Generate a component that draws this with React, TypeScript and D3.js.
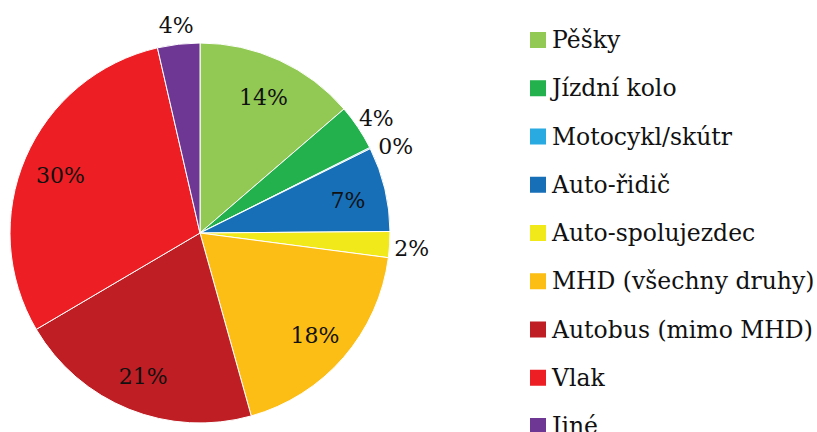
import React from 'react';
import * as d3 from 'd3';

const categories = [
  'Pěšky',
  'Jízdní kolo',
  'Motocykl/skútr',
  'Auto-řidič',
  'Auto-spolujezdec',
  'MHD (všechny druhy)',
  'Autobus (mimo MHD)',
  'Vlak',
  'Jiné',
];
const shares = [13.7, 3.9, 0.1, 7.2, 2.2, 18.6, 20.9, 29.9, 3.6];
const labels = ['14%', '4%', '0%', '7%', '2%', '18%', '21%', '30%', '4%'];
const outside = [false, true, true, false, true, false, false, false, true];
const colors = ['#92c955', '#22b14c', '#29abe2', '#176fb8', '#f2e91b', '#fcbe15', '#be1e24', '#ed1f24', '#6f3794'];

const W = 817;
const H = 432;
const FONT = '"DejaVu Serif", serif';

type Row = { name: string; value: number; label: string; out: boolean; color: string };

const rows: Row[] = categories.map((name, i) => ({
  name,
  value: shares[i],
  label: labels[i],
  out: outside[i],
  color: colors[i],
}));

const App: React.FC = () => {
  const cx = 200;
  const cy = 233;
  const r = 190;

  const pie = d3.pie<Row>().value(d => d.value).sort(null);
  const arcs = pie(rows);
  const arc = d3.arc<d3.PieArcDatum<Row>>().innerRadius(0).outerRadius(r);
  const inLabel = d3.arc<d3.PieArcDatum<Row>>().innerRadius(r * 0.8).outerRadius(r * 0.8);
  const outLabel = d3.arc<d3.PieArcDatum<Row>>().innerRadius(r + 22).outerRadius(r + 22);

  // legend rows
  const legendY = d3.scaleLinear().domain([0, 1]).range([40, 88.25]);

  return (
    <svg
      width={W}
      height={H}
      style={{ position: 'fixed', left: 0, top: 0, background: '#fff', display: 'block' }}
    >
      <g transform={`translate(${cx},${cy})`}>
        {arcs.map((a, i) => (
          <path key={i} d={arc(a) || ''} fill={a.data.color} stroke="#fff" strokeWidth={1} />
        ))}
        {arcs.map((a, i) => {
          const [x, y] = (a.data.out ? outLabel : inLabel).centroid(a);
          // tiny slice label sits a little lower, like the original
          const dy = a.data.value < 1 ? 8 : 3;
          return (
            <text
              key={'l' + i}
              x={x + (a.data.value < 1 ? 6 : 0)}
              y={y + dy}
              textAnchor="middle"
              dominantBaseline="central"
              fontFamily={FONT}
              fontSize={22}
              fill="#111"
            >
              {a.data.label}
            </text>
          );
        })}
      </g>
      <g>
        {rows.map((d, i) => (
          <g key={'g' + i} transform={`translate(530,${legendY(i)})`}>
            <rect x={0} y={-8} width={16} height={16} fill={d.color} />
            <text x={22} y={8} fontFamily={FONT} fontSize={23.5} fill="#111">
              {d.name}
            </text>
          </g>
        ))}
      </g>
    </svg>
  );
};

export default App;
